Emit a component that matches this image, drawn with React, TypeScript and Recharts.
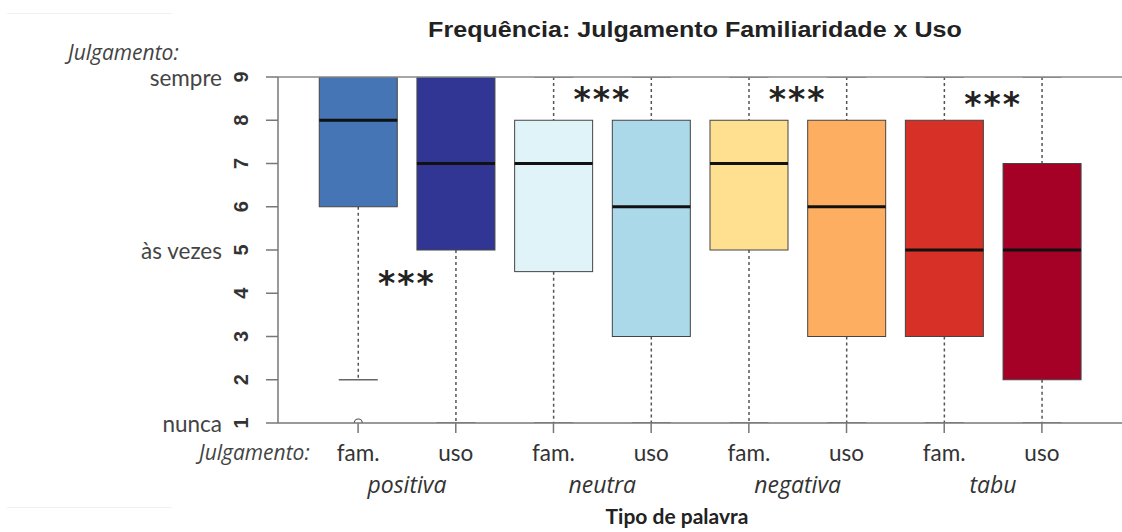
import React from 'react';
import {
  ComposedChart,
  Bar,
  Scatter,
  XAxis,
  YAxis,
  ReferenceLine,
} from 'recharts';

// one box per (word type, judgement) pair, in plot order
const judgements = ['fam.', 'uso', 'fam.', 'uso', 'fam.', 'uso', 'fam.', 'uso'];
const wordTypes = ['positiva', 'neutra', 'negativa', 'tabu'];
const whiskerLow = [2, 1, 1, 1, 1, 1, 1, 1];
const lowerQuartile = [6, 5, 4.5, 3, 5, 3, 3, 2];
const medians = [8, 7, 7, 6, 7, 6, 5, 5];
const upperQuartile = [9, 9, 8, 8, 8, 8, 8, 7];
const whiskerHigh = [9, 9, 9, 9, 9, 9, 9, 9];
const outliers = [[1], [], [], [], [], [], [], []];

// scale 1..9 with the verbal anchors used in the questionnaire
const scaleTicks = [1, 2, 3, 4, 5, 6, 7, 8, 9];
const scaleWords: Record<number, string> = { 9: 'sempre', 5: 'às vezes', 1: 'nunca' };

// "***" marks between each fam./uso pair (x = box position, y = scale value)
const starX = [1.5, 3.5, 5.5, 7.5];
const starY = [4.35, 8.6, 8.6, 8.5];

// RdYlBu palette
const boxColors = ['#4575b4', '#313695', '#e0f3f8', '#abd9e9', '#fee090', '#fdae61', '#d73027', '#a50026'];

const boxData = judgements.map((j, i) => ({
  pos: i + 1,
  judgement: j,
  low: whiskerLow[i],
  q1: lowerQuartile[i],
  med: medians[i],
  q3: upperQuartile[i],
  high: whiskerHigh[i],
  outliers: outliers[i],
  color: boxColors[i],
}));

const starData = starX.map((x, i) => ({ pos: x, y: starY[i] }));
const groupTicks = wordTypes.map((_, i) => i * 2 + 1.5);

// R's boxplot: xlim = [0.5, n + 0.5] extended by 4 %
const xDomain = [0.5 - 0.32, judgements.length + 0.5 + 0.32];

const rangeOf = (d: any) => {
  if (!d || d.low === undefined) return null;
  return [Math.min(d.low, ...(d.outliers || [])), d.high];
};

const BoxShape = (props: any) => {
  const { x, y, width, height, payload } = props;
  if (!payload || payload.low === undefined) return null;
  const [lo, hi] = rangeOf(payload) as number[];
  // map a scale value into the pixel span recharts gave this bar
  const py = (v: number) => y + ((hi - v) / (hi - lo)) * height;
  const cx = x + width / 2;
  const cap = width / 4;
  return (
    <g>
      <line x1={cx} x2={cx} y1={py(payload.high)} y2={py(payload.q3)} stroke="#555" strokeWidth={1.5} strokeDasharray="3 3" />
      <line x1={cx} x2={cx} y1={py(payload.q1)} y2={py(payload.low)} stroke="#555" strokeWidth={1.5} strokeDasharray="3 3" />
      <line x1={cx - cap} x2={cx + cap} y1={py(payload.low)} y2={py(payload.low)} stroke="#666" strokeWidth={1.5} />
      <line x1={cx - cap} x2={cx + cap} y1={py(payload.high)} y2={py(payload.high)} stroke="#666" strokeWidth={1.5} />
      <rect
        x={x}
        y={py(payload.q3)}
        width={width}
        height={py(payload.q1) - py(payload.q3)}
        fill={payload.color}
        stroke="#444"
        strokeWidth={1}
      />
      <line x1={x} x2={x + width} y1={py(payload.med)} y2={py(payload.med)} stroke="#111" strokeWidth={3} />
      {payload.outliers.map((o: number, k: number) => (
        <circle key={k} cx={cx} cy={py(o)} r={4} fill="none" stroke="#555" strokeWidth={1.2} />
      ))}
    </g>
  );
};

const StarShape = (props: any) => (
  <text
    x={props.cx}
    y={props.cy}
    dy={17}
    textAnchor="middle"
    fontFamily="DejaVu Sans"
    fontWeight="bold"
    fontSize={33}
    fill="#222"
    letterSpacing={2}
  >
    ***
  </text>
);

const YTick = (props: any) => {
  const { x, y, payload } = props;
  const word = scaleWords[payload.value];
  return (
    <g>
      <text
        x={x - 7}
        y={y}
        transform={`rotate(-90, ${x - 7}, ${y})`}
        textAnchor="middle"
        dominantBaseline="central"
        fontFamily="Liberation Sans"
        fontWeight="bold"
        fontSize={20}
        fill="#333"
      >
        {payload.value}
      </text>
      {word && (
        <text x={x - 26} y={y} textAnchor="end" dominantBaseline="central" fontFamily="Lato" fontSize={22.5} fill="#444">
          {word}
        </text>
      )}
    </g>
  );
};

const XTick = (props: any) => {
  const { x, y, payload } = props;
  return (
    <text x={x} y={y} textAnchor="middle" dominantBaseline="central" fontFamily="Lato" fontSize={22.5} fill="#333">
      {judgements[payload.value - 1]}
    </text>
  );
};

const GroupTick = (props: any) => {
  const { x, y, payload } = props;
  return (
    <text x={x} y={y} textAnchor="middle" dominantBaseline="central" fontFamily="Open Sans" fontStyle="italic" fontSize={23} fill="#333">
      {wordTypes[Math.floor(payload.value / 2)]}
    </text>
  );
};

const overlay: React.CSSProperties = { position: 'absolute', whiteSpace: 'nowrap', color: '#444' };

export default function App() {
  return (
    <div style={{ position: 'absolute', left: 0, top: 0, width: 1122, height: 532, background: '#fff', overflow: 'hidden' }}>
      <div style={{ position: 'absolute', left: 7, top: 13, width: 165, borderTop: '1px solid #f0f0f0' }} />
      <div style={{ position: 'absolute', left: 7, top: 507, width: 165, borderTop: '1px solid #f0f0f0' }} />
      <div
        style={{
          ...overlay,
          left: 695,
          top: 17,
          transform: 'translateX(-50%) scaleX(1.14)',
          fontFamily: 'Liberation Sans',
          fontWeight: 'bold',
          fontSize: 22,
          color: '#222',
        }}
      >
        Frequência: Julgamento Familiaridade x Uso
      </div>
      <div style={{ ...overlay, left: 68, top: 38, fontFamily: 'Open Sans', fontStyle: 'italic', fontSize: 21 }}>
        Julgamento:
      </div>
      <div style={{ ...overlay, left: 199, top: 438, fontFamily: 'Open Sans', fontStyle: 'italic', fontSize: 21 }}>
        Julgamento:
      </div>
      <div
        style={{
          ...overlay,
          left: 677,
          top: 503,
          lineHeight: '26px',
          transform: 'translateX(-50%)',
          fontFamily: 'Lato',
          fontWeight: 'bold',
          fontSize: 21,
          color: '#222',
        }}
      >
        Tipo de palavra
      </div>
      <ComposedChart width={1122} height={532} data={boxData} margin={{ top: 77, right: 0, bottom: 13, left: 0 }}>
        <XAxis
          xAxisId="box"
          dataKey="pos"
          type="number"
          domain={xDomain}
          allowDataOverflow
          ticks={boxData.map((d) => d.pos)}
          tick={<XTick />}
          tickSize={10}
          tickMargin={19}
          height={48}
          axisLine={{ stroke: '#777', strokeWidth: 1.5 }}
          tickLine={{ stroke: '#777', strokeWidth: 1.5 }}
        />
        <XAxis
          xAxisId="group"
          dataKey="pos"
          type="number"
          domain={xDomain}
          allowDataOverflow
          ticks={groupTicks}
          tick={<GroupTick />}
          tickSize={0}
          tickMargin={13}
          height={48}
          axisLine={false}
          tickLine={false}
        />
        <YAxis
          type="number"
          domain={[1, 9]}
          ticks={scaleTicks}
          allowDataOverflow
          width={278}
          tick={<YTick />}
          tickSize={12}
          tickMargin={18}
          axisLine={{ stroke: '#777', strokeWidth: 1.5 }}
          tickLine={{ stroke: '#777', strokeWidth: 1.5 }}
        />
        <ReferenceLine xAxisId="box" y={9} stroke="#888" strokeWidth={1.5} />
        <Bar xAxisId="box" dataKey={rangeOf} barSize={78} shape={<BoxShape />} isAnimationActive={false} />
        <Scatter xAxisId="group" data={starData} dataKey="y" shape={<StarShape />} isAnimationActive={false} />
      </ComposedChart>
    </div>
  );
}
